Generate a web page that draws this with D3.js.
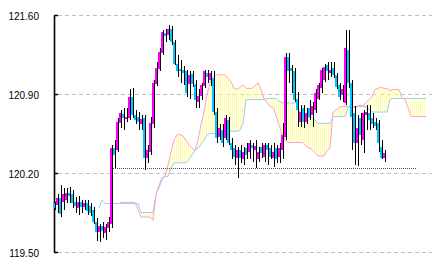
<!DOCTYPE html>
<html>
<head>
<meta charset="utf-8">
<script src="https://cdn.jsdelivr.net/npm/d3@7"></script>
<style>
body { margin: 0; background: #fff; }
svg { display: block; font-family: "Liberation Sans", Arial, sans-serif; }
</style>
</head>
<body>
<div id="chart"></div>
<script>
// price axis
const yTicks = [119.50, 120.20, 120.90, 121.60];

// candles (one per period)
const candleOpen = [
  119.93,119.92,119.98,119.94,119.96,120.02,120.01,119.94,119.89,119.94,
  119.90,119.93,119.91,119.87,119.77,119.68,119.73,119.67,119.71,119.75,
  120.42,120.40,120.64,120.72,120.68,120.69,120.87,120.71,120.70,120.63,
  120.69,120.33,120.39,120.63,120.99,121.12,121.26,121.44,121.42,121.48,
  121.36,121.17,121.12,121.11,121.10,120.99,121.08,120.99,120.83,120.88,
  120.97,121.09,121.02,121.04,120.74,120.52,120.58,120.51,120.67,120.47,
  120.42,120.33,120.40,120.32,120.42,120.39,120.45,120.40,120.32,120.43,
  120.34,120.45,120.42,120.33,120.42,120.34,120.40,120.52,121.23,121.13,
  121.10,120.86,120.65,120.78,120.65,120.78,120.71,120.76,120.86,120.95,
  121.02,121.16,121.09,121.13,121.07,120.98,120.89,120.82,121.29,121.00,
  120.73,120.47,120.69,120.49,120.71,120.73,120.69,120.65,120.64,120.43,
  120.33
];
const candleClose = [
  119.89,119.98,119.84,120.01,120.02,120.00,119.93,119.91,119.94,119.90,
  119.93,119.86,119.85,119.77,119.68,119.73,119.69,119.72,119.77,120.42,
  120.36,120.65,120.73,120.69,120.70,120.87,120.71,120.67,120.65,120.68,
  120.33,120.40,120.64,121.00,121.13,121.27,121.45,121.41,121.48,121.36,
  121.17,121.10,121.10,121.09,120.91,121.07,120.99,120.85,120.88,120.98,
  121.10,121.05,121.09,120.74,120.51,120.60,120.47,120.69,120.47,120.40,
  120.34,120.40,120.33,120.39,120.36,120.47,120.42,120.44,120.39,120.38,
  120.45,120.40,120.34,120.39,120.32,120.42,120.54,121.23,121.10,121.10,
  120.85,120.76,120.74,120.65,120.73,120.70,120.79,120.91,120.98,121.11,
  121.14,121.10,121.11,121.07,120.96,120.87,120.94,121.31,121.00,120.70,
  120.47,120.60,120.54,120.73,120.74,120.67,120.63,120.62,120.47,120.33,
  120.38
];
const candleHigh = [
  119.94,120.01,120.09,120.07,120.07,120.08,120.05,119.99,120.00,119.96,
  119.96,119.96,119.93,119.90,119.80,119.75,119.77,119.75,119.81,120.45,
  120.49,120.69,120.76,120.78,120.78,120.94,120.95,120.76,120.74,120.71,
  120.71,120.45,120.70,121.02,121.18,121.31,121.47,121.48,121.51,121.50,
  121.38,121.25,121.20,121.15,121.11,121.10,121.10,121.02,120.94,121.00,
  121.11,121.11,121.10,121.10,120.78,120.63,120.63,120.71,120.70,120.51,
  120.45,120.43,120.45,120.43,120.47,120.49,120.47,120.49,120.43,120.47,
  120.47,120.47,120.45,120.47,120.45,120.47,120.64,121.26,121.26,121.16,
  121.13,120.92,120.80,120.80,120.78,120.85,120.83,120.94,121.00,121.13,
  121.17,121.18,121.18,121.18,121.09,121.00,120.98,121.47,121.47,121.02,
  120.79,120.71,120.73,120.76,120.80,120.80,120.73,120.69,120.67,120.49,
  120.40
];
const candleLow = [
  119.87,119.85,119.81,119.87,119.93,119.93,119.89,119.85,119.83,119.85,
  119.87,119.83,119.82,119.75,119.60,119.59,119.62,119.61,119.68,119.71,
  120.24,120.39,120.60,120.58,120.65,120.67,120.69,120.63,120.58,120.58,
  120.23,120.29,120.36,120.60,120.97,121.10,121.25,121.36,121.38,121.33,
  121.16,121.05,121.00,120.98,120.87,120.86,120.96,120.78,120.78,120.85,
  120.95,121.00,120.97,120.71,120.47,120.49,120.43,120.49,120.45,120.32,
  120.27,120.16,120.29,120.27,120.32,120.32,120.30,120.24,120.30,120.33,
  120.30,120.27,120.32,120.25,120.29,120.29,120.32,120.49,121.00,120.91,
  120.83,120.61,120.61,120.60,120.63,120.67,120.61,120.73,120.85,120.91,
  121.01,121.02,121.05,121.04,120.94,120.85,120.83,120.80,120.95,120.40,
  120.27,120.26,120.45,120.38,120.58,120.58,120.60,120.58,120.39,120.32,
  120.30
];

// cloud lines (period index where each starts)
const spanAFrom = 15;
const spanA = [
  119.89,119.96,119.93,119.93,119.93,119.93,119.93,119.93,119.93,119.93,
  119.93,119.93,119.93,119.93,119.85,119.85,119.85,119.85,119.85,120.01,
  120.07,120.14,120.17,120.17,120.24,120.29,120.29,120.29,120.29,120.29,
  120.32,120.36,120.40,120.42,120.45,120.49,120.54,120.55,120.55,120.55,
  120.55,120.55,120.55,120.57,120.57,120.57,120.57,120.58,120.64,120.85,
  120.85,120.85,120.85,120.85,120.85,120.85,120.86,120.86,120.86,120.86,
  120.84,120.82,120.82,120.82,120.82,120.82,120.82,120.73,120.70,120.70,
  120.70,120.69,120.67,120.64,120.64,120.64,120.64,120.64,120.70,120.70,
  120.70,120.70,120.70,120.78,120.79,120.79,120.79,120.79,120.79,120.79,
  120.76,120.74,120.74,120.74,120.74,120.74,120.74,120.85,120.86,120.86,
  120.86,120.86,120.86,120.86,120.86,120.86,120.86,120.86,120.86,120.86
];
const spanBFrom = 22;
const spanB = [
  119.94,119.94,119.94,119.94,119.94,119.94,119.87,119.81,119.81,119.81,
  119.81,119.78,120.01,120.09,120.16,120.17,120.27,120.39,120.49,120.54,
  120.54,120.53,120.49,120.45,120.42,120.40,120.49,120.63,120.74,120.89,
  121.00,121.05,121.07,121.07,121.07,121.07,121.04,121.01,120.95,120.94,
  120.96,120.98,120.95,120.95,120.95,120.97,121.00,120.94,120.86,120.82,
  120.79,120.78,120.71,120.63,120.54,120.49,120.47,120.47,120.47,120.47,
  120.47,120.47,120.44,120.42,120.41,120.38,120.35,120.35,120.35,120.40,
  120.42,120.74,120.76,120.78,120.79,120.79,120.79,120.78,120.78,120.79,
  120.80,120.80,120.82,120.85,120.88,120.94,120.95,120.96,120.95,120.95,
  120.93,120.94,120.94,120.94,120.87,120.85,120.78,120.70,120.70,120.70,
  120.70,120.70,120.70
];

// dotted level line
const refLevel = 120.24;
const refFrom = 20;
const refTo = 121;

const W = 432, H = 266;
const lastPeriod = spanBFrom + spanB.length - 1;

const svg = d3.select('#chart')
    .append('svg')
    .attr('width', W)
    .attr('height', H)
;

const x = d3.scaleLinear()
    .domain([0, candleOpen.length - 1])
    .range([53, 383]);

const y = d3.scaleLinear()
    .domain([119.50, 121.60])
    .range([252, 15]);

// stripes for the cloud
svg.append('defs')
    .append('pattern')
    .attr('id', 'stripes')
    .attr('patternUnits', 'userSpaceOnUse')
    .attr('width', 2)
    .attr('height', 4)
    .append('rect')
    .attr('width', 1)
    .attr('height', 4)
    .attr('fill', '#ffffa0')
    .attr('shape-rendering', 'crispEdges')
;

// grid
svg.append('g')
    .selectAll('line')
    .data(yTicks)
    .join('line')
    .attr('x1', 58)
    .attr('x2', W)
    .attr('y1', d => Math.round(y(d)) + 0.5)
    .attr('y2', d => Math.round(y(d)) + 0.5)
    .attr('stroke', '#c0c0c0')
    .attr('stroke-dasharray', '4,3')
;

// cloud
const cloudIdx = d3.range(spanBFrom, lastPeriod + 1);
const aAt = i => spanA[i - spanAFrom];
const bAt = i => spanB[i - spanBFrom];

svg.append('path')
    .datum(cloudIdx)
    .attr('d', d3.area()
        .x(i => x(i) + 1)
        .y0(i => y(aAt(i)))
        .y1(i => y(bAt(i))))
    .attr('fill', 'url(#stripes)')
;

svg.append('path')
    .datum(spanA.map((v, k) => [spanAFrom + k, v]))
    .attr('d', d3.line().x(d => x(d[0]) + 1).y(d => y(d[1])))
    .attr('fill', 'none')
    .attr('stroke', '#99ccff')
    .attr('stroke-width', 1)
;

svg.append('path')
    .datum(spanB.map((v, k) => [spanBFrom + k, v]))
    .attr('d', d3.line().x(d => x(d[0]) + 1).y(d => y(d[1])))
    .attr('fill', 'none')
    .attr('stroke', '#ff9fcf')
    .attr('stroke-width', 1)
;

// dotted level
svg.append('line')
    .attr('x1', x(refFrom))
    .attr('x2', x(refTo))
    .attr('y1', Math.round(y(refLevel)) + 0.5)
    .attr('y2', Math.round(y(refLevel)) + 0.5)
    .attr('stroke', '#555')
    .attr('stroke-dasharray', '1,1')
;

// axis
const axis = d3.axisLeft(y)
    .tickValues(yTicks)
    .tickFormat(d3.format('.2f'))
    .tickSize(-4)
    .tickSizeOuter(0)
    .tickPadding(15)
;
const ax = svg.append('g')
    .attr('transform', 'translate(54,0)')
    .call(axis)
;
ax.selectAll('text')
    .attr('font-size', 10)
    .attr('font-family', '"Liberation Sans", Arial, sans-serif')
    .attr('fill', '#000')
    .attr('dy', '0.4em')
;
ax.selectAll('.tick line').attr('stroke', '#000').attr('stroke-width', 1.5);
ax.select('.domain').attr('stroke', '#000').attr('stroke-width', 1.6);

// candles
const idx = d3.range(candleOpen.length);
const candles = svg.append('g').attr('shape-rendering', 'crispEdges');

candles.selectAll('line')
    .data(idx)
    .join('line')
    .attr('x1', i => Math.round(x(i)) + 2.5)
    .attr('x2', i => Math.round(x(i)) + 2.5)
    .attr('y1', i => y(candleHigh[i]))
    .attr('y2', i => y(candleLow[i]))
    .attr('stroke', '#000')
;

candles.selectAll('rect')
    .data(idx)
    .join('rect')
    .attr('x', i => Math.round(x(i)))
    .attr('width', 2)
    .attr('y', i => y(Math.max(candleOpen[i], candleClose[i])))
    .attr('height', i => Math.max(1, Math.abs(y(candleOpen[i]) - y(candleClose[i]))))
    .attr('fill', i => candleClose[i] >= candleOpen[i] ? '#ff00ff' : '#00c8ff')
;
</script>
</body>
</html>
